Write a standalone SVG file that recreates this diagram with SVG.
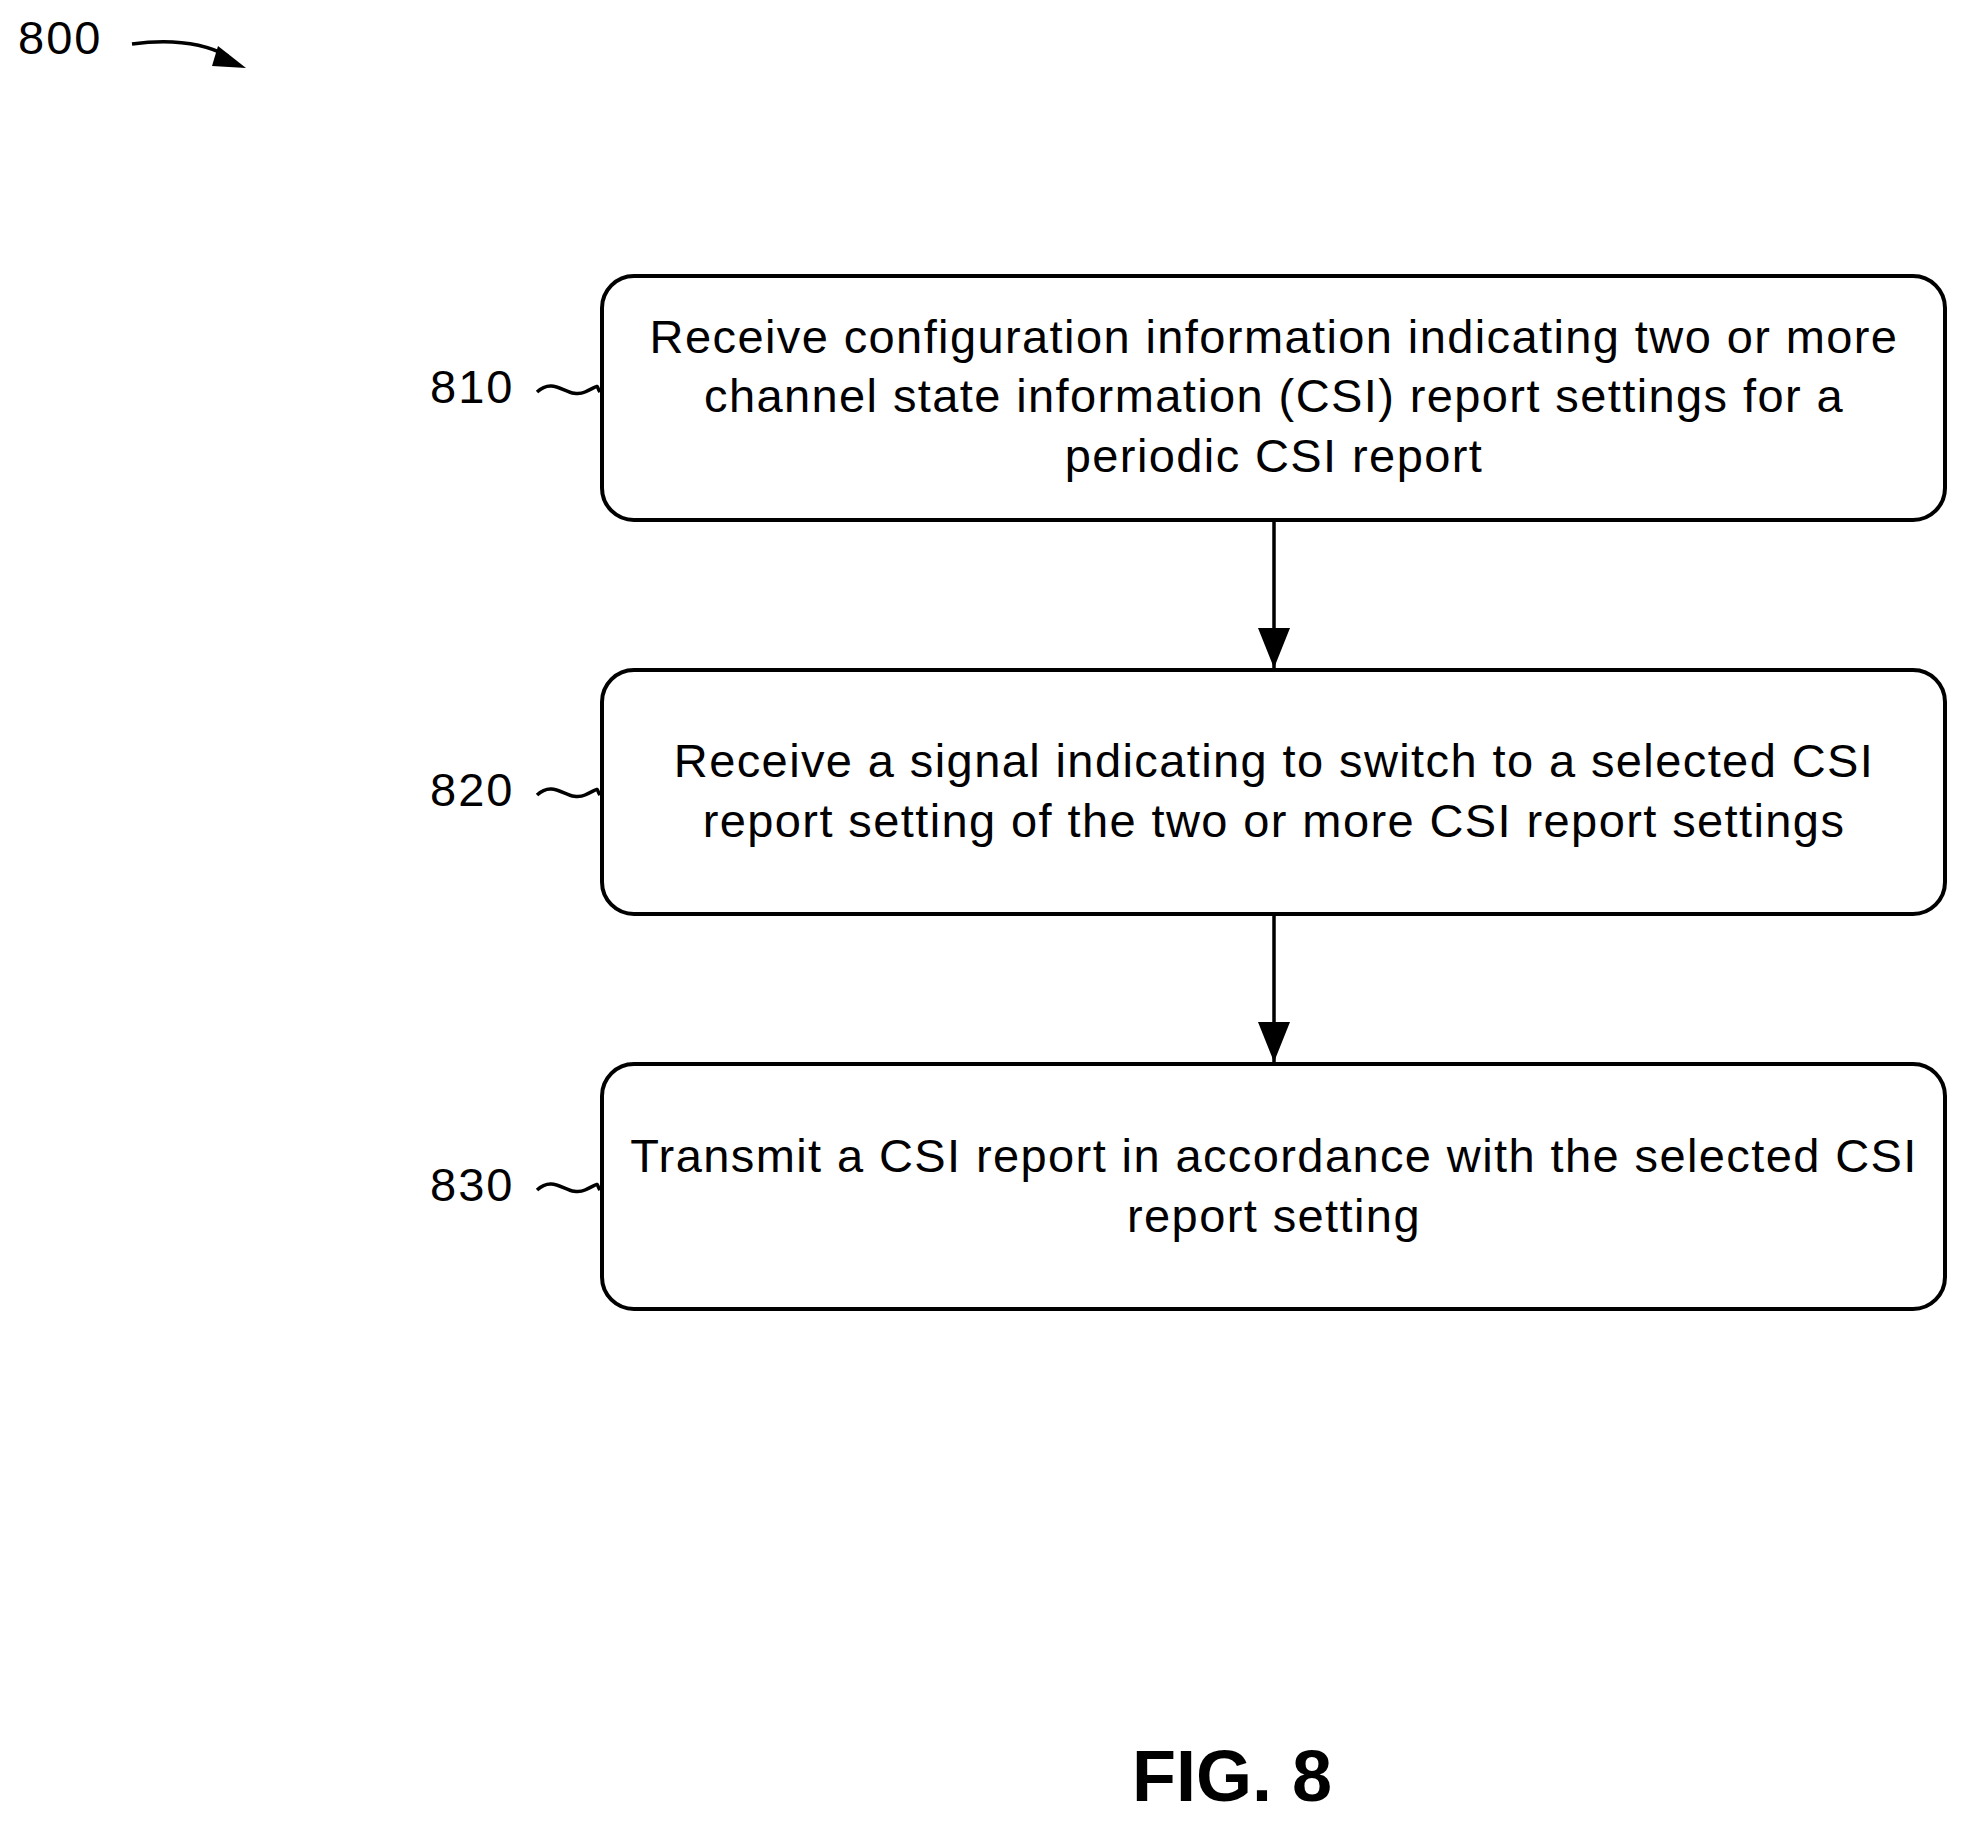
<svg xmlns="http://www.w3.org/2000/svg" width="1968" height="1826" viewBox="0 0 1968 1826">
<style>
.box{fill:#fff;stroke:#000;stroke-width:4}
.t{font-family:"Liberation Sans",Arial,sans-serif;font-size:47px;letter-spacing:1.4px;text-anchor:middle;fill:#000}
.l{font-family:"Liberation Sans",Arial,sans-serif;font-size:47px;letter-spacing:2px;fill:#000}
.c{fill:none;stroke:#000;stroke-width:3.5}
</style>
<defs>
<marker id="a2" viewBox="0 0 40 32" refX="40" refY="16" markerWidth="40" markerHeight="32" orient="auto" markerUnits="userSpaceOnUse"><path d="M0,0 L40,16 L0,32z" fill="#000"/></marker></defs>
<rect width="1968" height="1826" fill="#fff"/>
<text class="l" x="18" y="54">800</text>
<path class="c" d="M132,44 Q190,36 228,56" />
<path d="M218,46 L246,68 L212,66z" fill="#000"/>
<g id="n810"><rect class="box" x="602" y="276" width="1343" height="244" rx="32"/>
<text class="t" x="1274" y="353">Receive configuration information indicating two or more</text>
<text class="t" x="1274" y="412">channel state information (CSI) report settings for a</text>
<text class="t" x="1274" y="472">periodic CSI report</text>
<text class="l" x="430" y="403">810</text>
<path class="c" d="M537,392 C555,375 568,400 585,392 S595,385 600,392"/></g>
<g id="n820"><rect class="box" x="602" y="670" width="1343" height="244" rx="32"/>
<text class="t" x="1274" y="777">Receive a signal indicating to switch to a selected CSI</text>
<text class="t" x="1274" y="837">report setting of the two or more CSI report settings</text>
<text class="l" x="430" y="806">820</text>
<path class="c" d="M537,795 C555,778 568,803 585,795 S595,788 600,795"/></g>
<g id="n830"><rect class="box" x="602" y="1064" width="1343" height="245" rx="32"/>
<text class="t" x="1274" y="1172">Transmit a CSI report in accordance with the selected CSI</text>
<text class="t" x="1274" y="1232">report setting</text>
<text class="l" x="430" y="1201">830</text>
<path class="c" d="M537,1190 C555,1173 568,1198 585,1190 S595,1183 600,1190"/></g>
<g id="connectors">
<line class="c" x1="1274" y1="520" x2="1274" y2="668" marker-end="url(#a2)"/>
<line class="c" x1="1274" y1="914" x2="1274" y2="1062" marker-end="url(#a2)"/>
</g>
<text x="1232" y="1801" style="font-family:'Liberation Sans',Arial,sans-serif;font-size:72px;font-weight:bold;text-anchor:middle">FIG. 8</text>
</svg>
